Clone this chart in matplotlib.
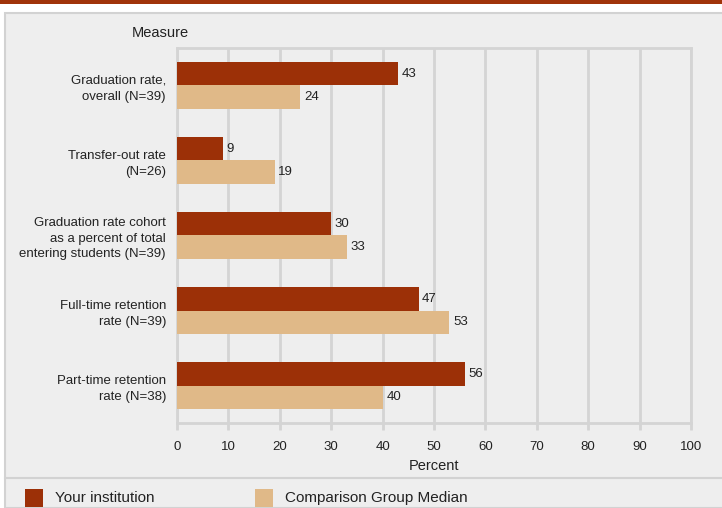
import matplotlib
matplotlib.use("Agg")
import matplotlib.pyplot as plt
from matplotlib.patches import Rectangle
from matplotlib.lines import Line2D

plt.rcParams['font.family'] = ['Liberation Sans', 'DejaVu Sans']

# data
measures = ["Graduation rate,\noverall (N=39)",
            "Transfer-out rate\n(N=26)",
            "Graduation rate cohort\nas a percent of total\nentering students (N=39)",
            "Full-time retention\nrate (N=39)",
            "Part-time retention\nrate (N=38)"]
your_inst = [43, 9, 30, 47, 56]
comp_median = [24, 19, 33, 53, 40]
xticks = list(range(0, 101, 10))

dark = "#9c3007"
light = "#e0b988"
grid_c = "#d4d4d4"

W, H = 722, 508
fig = plt.figure(figsize=(W / 100, H / 100), dpi=100)
fig.patch.set_facecolor("white")

# top band and panel background (behind the axes)
fig.patches.append(Rectangle((0, 1 - 4 / H), 1, 4 / H, transform=fig.transFigure,
                             facecolor="#a0340a", edgecolor="none", zorder=-2))
fig.patches.append(Rectangle((5 / W, 0), 1, (H - 13) / H, transform=fig.transFigure,
                             facecolor="#eeeeee", edgecolor="#d2d2d2", linewidth=1.5, zorder=-2))
fig.lines.append(Line2D([5 / W, 1], [1 - 478 / H, 1 - 478 / H], transform=fig.transFigure,
                        color="#d2d2d2", linewidth=1.5, zorder=-1))

ax = fig.add_axes([177 / W, 1 - 423 / H, (691 - 177) / W, (423 - 48) / H])
ax.set_facecolor("#eeeeee")

h = 0.31
ypos = list(range(len(measures)))
b1 = ax.barh([y - h / 2 for y in ypos], your_inst, height=h, color=dark, zorder=3)
b2 = ax.barh([y + h / 2 for y in ypos], comp_median, height=h, color=light, zorder=3)
for bars, vals in ((b1, your_inst), (b2, comp_median)):
    for rect, v in zip(bars, vals):
        ax.text(v + 0.7, rect.get_y() + rect.get_height() / 2, str(v),
                va="center", ha="left", fontsize=9.5, color="#222222", zorder=4)

ax.set_xlim(0, 100)
ax.set_ylim(len(measures) - 0.5, -0.5)
ax.set_xticks(xticks)
ax.set_yticks(ypos)
ax.set_yticklabels(measures, fontsize=9.5, color="#222222", linespacing=1.4)
ax.tick_params(axis="y", length=0, pad=8)
ax.tick_params(axis="x", length=5, color=grid_c, width=2, labelsize=9.5,
               labelcolor="#222222", pad=8)
ax.grid(axis="x", color=grid_c, linewidth=2, zorder=0)
ax.set_axisbelow(True)
for s in ax.spines.values():
    s.set_color(grid_c)
    s.set_linewidth(2)
ax.set_xlabel("Percent", fontsize=10.5, color="#222222", labelpad=4)

fig.text(132 / W, 1 - 33 / H, "Measure", fontsize=10.5, va="center", ha="left", color="#222222")

# legend
fig.patches.append(Rectangle((25 / W, 1 - 507 / H), 18 / W, 18 / H, transform=fig.transFigure,
                             facecolor=dark, edgecolor="none"))
fig.text(55 / W, 1 - 498 / H, "Your institution", fontsize=11, va="center", color="#222222")
fig.patches.append(Rectangle((255 / W, 1 - 507 / H), 18 / W, 18 / H, transform=fig.transFigure,
                             facecolor=light, edgecolor="none"))
fig.text(285 / W, 1 - 498 / H, "Comparison Group Median", fontsize=11, va="center", color="#222222")

fig.savefig("out.png", dpi=100)
